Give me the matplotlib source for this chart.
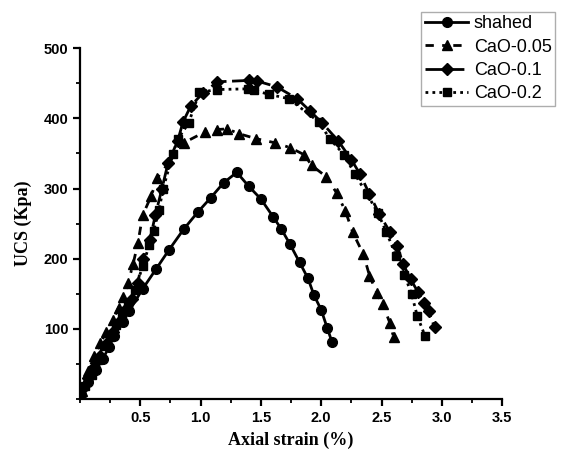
import matplotlib
matplotlib.use('Agg')
import matplotlib.pyplot as plt
from matplotlib.ticker import MultipleLocator

# shahed (circles)
shahed_x = [0.01, 0.065, 0.13, 0.19, 0.24, 0.285, 0.355, 0.41, 0.52, 0.63, 0.74, 0.86, 0.975,
            1.085, 1.19, 1.30, 1.40, 1.50, 1.60, 1.67, 1.74, 1.82, 1.89, 1.94, 2.00, 2.05, 2.09]
shahed_y = [6, 24, 41, 57, 74, 90, 110, 126, 157, 185, 213, 242, 266,
            287, 308, 323, 303, 285, 260, 242, 221, 195, 172, 148, 127, 101, 81]

# CaO-0.05 (triangles)
cao005_x = [0.02, 0.07, 0.12, 0.17, 0.22, 0.27, 0.32, 0.36, 0.40, 0.44, 0.48, 0.52, 0.59, 0.64,
            0.86, 1.04, 1.14, 1.22, 1.32, 1.46, 1.62, 1.745, 1.86, 1.92, 2.04, 2.13, 2.20, 2.26,
            2.35, 2.40, 2.46, 2.51, 2.57, 2.60]
cao005_y = [12, 40, 62, 80, 96, 112, 130, 145, 166, 192, 222, 262, 289, 315,
            365, 381, 384, 385, 378, 371, 365, 358, 348, 333, 317, 293, 268, 238,
            206, 176, 151, 135, 108, 88]

# CaO-0.1 (diamonds)
cao01_x = [0.02, 0.07, 0.12, 0.17, 0.22, 0.27, 0.32, 0.38, 0.43, 0.48, 0.52, 0.58, 0.625, 0.68,
           0.73, 0.81, 0.855, 0.92, 1.02, 1.14, 1.40, 1.47, 1.63, 1.80, 1.91, 2.01, 2.14, 2.25,
           2.32, 2.40, 2.48, 2.57, 2.63, 2.68, 2.74, 2.80, 2.85, 2.89, 2.94]
cao01_y = [15, 30, 45, 62, 78, 95, 110, 128, 143, 166, 200, 227, 262, 300,
           336, 368, 395, 418, 436, 452, 454, 453, 445, 428, 410, 393, 368, 341,
           321, 292, 264, 238, 218, 192, 171, 153, 137, 125, 102]

# CaO-0.2 (squares)
cao02_x = [0.04, 0.10, 0.15, 0.20, 0.25, 0.30, 0.35, 0.40, 0.456, 0.52, 0.575, 0.61, 0.655, 0.69,
           0.77, 0.81, 0.90, 0.99, 1.14, 1.39, 1.44, 1.57, 1.73, 1.98, 2.07, 2.19, 2.28,
           2.38, 2.47, 2.54, 2.62, 2.69, 2.75, 2.795, 2.86]
cao02_y = [18, 35, 55, 75, 88, 105, 120, 135, 156, 189, 220, 239, 269, 300,
           349, 370, 393, 437, 441, 442, 440, 434, 428, 395, 371, 348, 320,
           292, 265, 238, 204, 177, 149, 119, 90]

plt.rcParams['font.family'] = 'Liberation Sans'

fig = plt.figure(figsize=(5.63, 4.54), dpi=100)
ax = fig.add_axes([0.142, 0.121, 0.750, 0.773])

ax.plot(shahed_x, shahed_y, '-', color='black', lw=2, marker='o', ms=7, label='shahed')
ax.plot(cao005_x, cao005_y, color='black', lw=2, ls=(0, (3, 3, 1, 3)), marker='^', ms=7.5,
        label='CaO-0.05')
ax.plot(cao01_x, cao01_y, color='black', lw=2, ls=(0, (6, 2)), marker='D', ms=6,
        label='CaO-0.1')
ax.plot(cao02_x, cao02_y, color='black', lw=2, ls=(0, (1, 1.5)), marker='s', ms=6,
        label='CaO-0.2')

ax.set_xlim(0, 3.5)
ax.set_ylim(0, 500)
ax.set_xticks([0.5, 1.0, 1.5, 2.0, 2.5, 3.0, 3.5])
ax.set_yticks([100, 200, 300, 400, 500])
ax.xaxis.set_minor_locator(MultipleLocator(0.25))
ax.yaxis.set_minor_locator(MultipleLocator(50))
ax.spines['top'].set_visible(False)
ax.spines['right'].set_visible(False)
for s in ['left', 'bottom']:
    ax.spines[s].set_linewidth(1.6)
ax.tick_params(which='major', direction='out', length=5, width=1.6, labelsize=10.5)
ax.tick_params(which='minor', direction='out', length=3, width=1.3)
for lbl in ax.get_xticklabels() + ax.get_yticklabels():
    lbl.set_fontweight('bold')

ax.set_xlabel('Axial strain (%)', fontfamily='Liberation Serif', fontweight='bold', fontsize=13,
              labelpad=5)
ax.set_ylabel('UCS (Kpa)', fontfamily='Liberation Serif', fontweight='bold', fontsize=13,
              labelpad=8)

leg = fig.legend(loc='upper right', bbox_to_anchor=(0.986, 0.974), fontsize=13,
                 frameon=True, fancybox=False, edgecolor='#999999', handlelength=2.4,
                 handletextpad=0.3, borderpad=0.2, labelspacing=0.35, borderaxespad=0)
leg.get_frame().set_linewidth(1.0)

fig.savefig('out.png', dpi=100)
